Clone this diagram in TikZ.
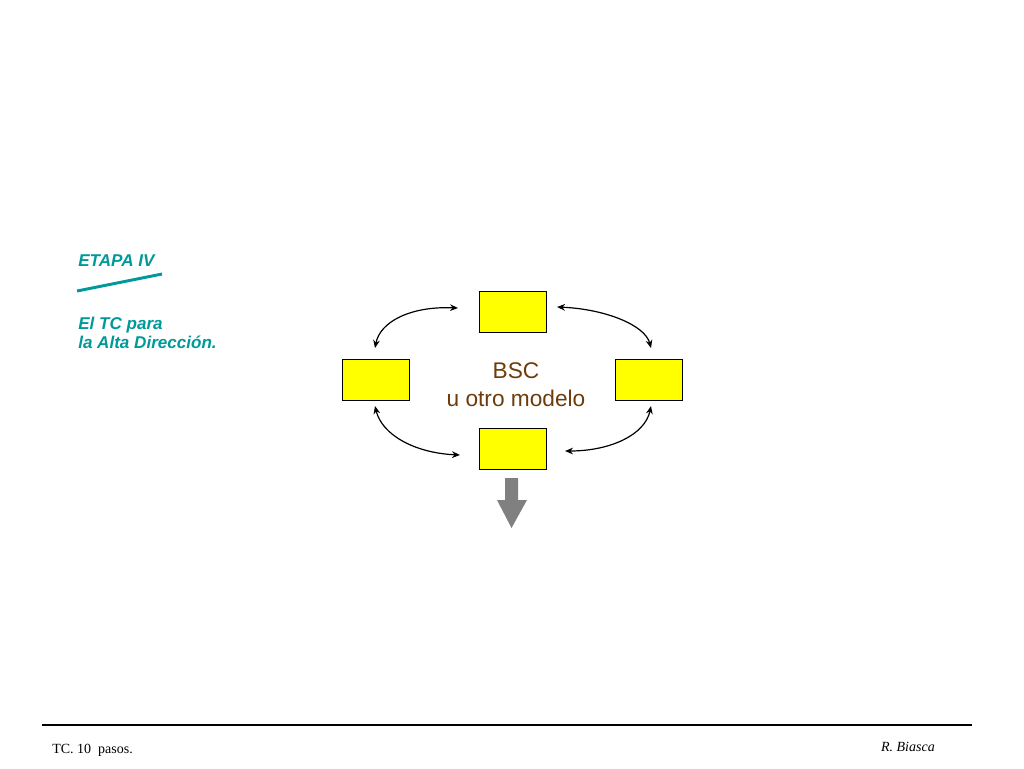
\documentclass[tikz,border=0pt]{standalone}
\usepackage{fontspec}
\setmainfont{Liberation Serif}
\setsansfont{Liberation Sans}
\usetikzlibrary{arrows.meta}
\definecolor{teal1}{RGB}{0,153,153}
\definecolor{brownt}{RGB}{110,60,10}
\definecolor{arrgray}{RGB}{128,128,128}
\definecolor{ybx}{RGB}{255,255,0}
\begin{document}
\begin{tikzpicture}[x=0.75pt,y=-0.75pt,
  ybox/.style={draw=black,line width=0.7pt,fill=ybx,minimum width=67*0.75pt,minimum height=41*0.75pt,inner sep=0pt},
  tealtxt/.style={text=teal1,font=\sffamily\bfseries\itshape\fontsize{12.8}{15}\selectfont,anchor=base west,inner sep=0pt},
  cyc/.style={line width=0.9pt,{Stealth[length=6pt,width=5pt]}-{Stealth[length=6pt,width=5pt]}},
  foot/.style={font=\fontsize{10.5}{12}\selectfont,anchor=base west,inner sep=0pt}]
\useasboundingbox (0,0) rectangle (1024,768);
% left labels
\node[tealtxt] (etapa) at (78,266) {ETAPA IV};
\coordinate (tl1) at (77,291);
\coordinate (tl2) at (162,274);
\draw[teal1,line width=2.2pt] (tl1) -- (tl2);
\node[tealtxt] (tc1) at (78,329) {El TC para};
\node[tealtxt] (tc2) at (78,348) {la Alta Dirección.};
% boxes
\node[ybox] (top) at (512.5,311.5) {};
\node[ybox] (left) at (376,379.5) {};
\node[ybox] (right) at (649,379.5) {};
\node[ybox] (bot) at (512.5,448.5) {};
% center text
\node[text=brownt,font=\sffamily\fontsize{17}{20}\selectfont,anchor=base,inner sep=0pt] (bsc) at (516,378) {BSC};
\node[text=brownt,font=\sffamily\fontsize{17}{20}\selectfont,anchor=base,inner sep=0pt] (otro) at (516,406) {u otro modelo};
% cycle arrows
\coordinate (a1) at (458,308); \coordinate (a2) at (375,348);
\coordinate (b1) at (557,307); \coordinate (b2) at (651,348);
\coordinate (c1) at (375,406); \coordinate (c2) at (460,455);
\coordinate (d1) at (651,406); \coordinate (d2) at (565,451);
\draw[cyc] (a1) .. controls (410,306) and (380,322) .. (a2);
\draw[cyc] (b1) .. controls (605,309) and (645,325) .. (b2);
\draw[cyc] (c1) .. controls (382,435) and (415,453) .. (c2);
\draw[cyc] (d1) .. controls (645,435) and (610,451) .. (d2);
% gray down arrow
\fill[arrgray] (505,478) -- (518,478) -- (518,500) -- (527,500) -- (511.5,528) -- (497,500) -- (505,500) -- cycle;
% footer
\coordinate (fl1) at (42,725); \coordinate (fl2) at (972,725);
\draw[line width=0.8pt] (fl1) -- (fl2);
\node[foot] (ft1) at (52,753) {TC. 10\ \ pasos.};
\node[foot,anchor=base east,font=\itshape\fontsize{10.5}{12}\selectfont] (ft2) at (935,751) {R. Biasca};
\end{tikzpicture}
\end{document}
